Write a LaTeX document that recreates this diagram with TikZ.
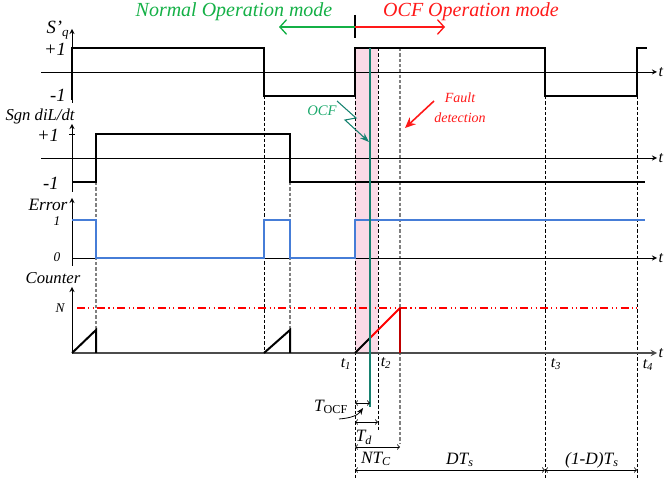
\documentclass[tikz,border=0pt]{standalone}
\usepackage{fontspec}
\setmainfont{Liberation Serif}
\usepackage{xcolor}
\usetikzlibrary{arrows, arrows.meta, calc}

\definecolor{modegreen}{RGB}{20,176,70}
\definecolor{ocfred}{RGB}{255,25,25}
\definecolor{ocfteal}{RGB}{22,130,112}
\definecolor{ocftext}{RGB}{30,170,110}
\definecolor{errblue}{RGB}{70,125,215}
\definecolor{bandpink}{RGB}{250,218,230}

\begin{document}
\begin{tikzpicture}[
  x=0.75pt, y=-0.75pt,
  axis/.style={->, >=stealth, line width=0.7pt},
  sig/.style={line width=1.5pt},
  guide/.style={dash pattern=on 2.5pt off 1.5pt, line width=0.5pt},
  guidegray/.style={guide, gray, line width=0.8pt},
  dim/.style={<->, >=to, line width=0.6pt},
  lbl/.style={font=\itshape\fontsize{13}{15}\selectfont},
  lvl/.style={font=\itshape\fontsize{14}{16}\selectfont},
  smlbl/.style={font=\itshape\fontsize{10}{12}\selectfont, inner sep=1pt},
  tlbl/.style={font=\itshape\fontsize{12}{14}\selectfont},
  mode/.style={font=\itshape\fontsize{15}{18}\selectfont}
]
\useasboundingbox (0,0) rectangle (664,484);

% ── OCF window (pink band) ───────────────────────────────────
\fill[bandpink] (355,48) rectangle (378,353);

% ── Guide lines ──────────────────────────────────────────────
\draw[guidegray] (96,182) -- (96,330);
\draw[guide]     (264,96) -- (264,353);
\draw[guidegray] (290,182) -- (290,330);
\draw[guide]     (355,96) -- (355,478);
\draw[guide]     (378,48) -- (378,432);
\draw[guidegray] (400,48) -- (400,443);
\draw[guide]     (545,96) -- (545,478);
\draw[guide]     (637,96) -- (637,478);

% ── Axes ─────────────────────────────────────────────────────
\draw[axis] (72,103) -- (72,29);
\draw[axis] (41,72) -- (657,72);
\draw[axis] (72,192) -- (72,124);
\draw (69,134) -- (75,134);
\draw[axis] (41,158) -- (657,158);
\draw[axis] (72,266) -- (72,198);
\draw[axis] (72,258) -- (657,258);
\draw[axis] (72,353) -- (72,287);
\draw[axis, black!70, line width=1.1pt] (72,353) -- (657,353);

% ── Signals ──────────────────────────────────────────────────
\draw[sig] (72,100) -- (72,48) -- (264,48) -- (264,96) -- (355,96) -- (355,48)
  -- (545,48) -- (545,96) -- (637,96) -- (637,48) -- (647,48);
\draw[sig] (72,182) -- (96,182) -- (96,134) -- (290,134) -- (290,182) -- (645,182);
\draw[sig, errblue] (72,220) -- (96,220) -- (96,258) -- (264,258) -- (264,220)
  -- (290,220) -- (290,258) -- (355,258) -- (355,220) -- (645,220);
\draw[red, dash pattern=on 6pt off 2.5pt on 0.8pt off 2.5pt on 0.8pt off 2.5pt, line width=0.8pt]
  (77,308) -- (640,308);
\draw[sig] (72,353) -- (96,330) -- (96,353);
\draw[sig] (264,353) -- (290,330) -- (290,353);
\draw[sig] (355,353) -- (370,338);
\draw[sig, red] (370,338) -- (400,308);
\draw[sig, red!75!black] (400,308) -- (400,353);
\draw[ocfteal, line width=1.3pt] (370,48) -- (370,407);

% ── Axis labels ──────────────────────────────────────────────
\node[lvl] (sq)  at (58,30)  {S’\textsubscript{q}};
\node[lvl] (sqh) at (55,49)  {+1};
\node[lvl] (sql) at (58,95)  {-1};
\node[lbl, font=\itshape\fontsize{12.5}{15}\selectfont] (sgn) at (40,116) {Sgn diL/dt};
\node[lvl] (sgh) at (48,135) {+1};
\node[lvl] (sgl) at (51,183) {-1};
\node[lbl, inner sep=1pt] (err) at (48,205) {Error};
\node[smlbl] (erh) at (57,221) {1};
\node[smlbl] (erl) at (57,257) {0};
\node[lbl, font=\itshape\fontsize{12.5}{15}\selectfont] (cnt) at (53,278) {Counter};
\node[smlbl] (cnn) at (60,308) {N};
\foreach \yy/\nm in {72/ta, 158/tb, 258/tc, 353/td}
  \node[tlbl, anchor=west, inner sep=1pt] (\nm) at (657,\yy) {t};
\node[tlbl] (t1) at (346,364) {t\textsubscript{1}};
\node[tlbl] (t2) at (386,363) {t\textsubscript{2}};
\node[tlbl] (t3) at (556,364) {t\textsubscript{3}};
\node[tlbl] (t4) at (648,365) {t\textsubscript{4}};

% ── Operation modes ──────────────────────────────────────────
\draw[line width=0.8pt] (355,15) -- (355,38);
\coordinate (mnorm) at (279,27);
\coordinate (mocf)  at (445,27);
\coordinate (msplit) at (355,27);
\draw[modegreen, line width=1pt, -{Straight Barb[length=5pt,width=11pt]}] (msplit) -- (mnorm);
\draw[ocfred, line width=1pt, -{Straight Barb[length=5pt,width=11pt]}] (msplit) -- (mocf);
\node[mode, text=modegreen] (normal) at (234,12) {Normal Operation mode};
\node[mode, text=ocfred]    (ocfmd)  at (471,12) {OCF Operation mode};

% ── OCF and fault detection marks ────────────────────────────
\node[text=ocftext, font=\itshape\fontsize{11}{13}\selectfont] (ocf) at (322,111) {OCF};
\coordinate (ocfhit) at (369,142);
\draw[ocfteal, line width=0.8pt, -{Stealth[length=7pt,width=5pt]}]
  (337,101) -- (356,118) -- (345,120) -- (ocfhit);
\node[text=ocfred, align=center, font=\itshape\fontsize{10.5}{15}\selectfont] (fault) at (460,108) {Fault\\detection};
\coordinate (fhit) at (405,128);
\draw[ocfred, line width=1.2pt, -{Stealth[length=8pt,width=7pt]}] (434,101) -- (fhit);

% ── Time intervals ───────────────────────────────────────────
\coordinate (da) at (355,403);  \coordinate (db) at (370,403);
\coordinate (dc) at (355,422);  \coordinate (dd) at (378,422);
\coordinate (de) at (355,447);  \coordinate (df) at (400,447);
\coordinate (dg) at (355,470);  \coordinate (dh) at (545,470);
\coordinate (di) at (637,470);
\draw[dim] (da) -- (db);
\draw[dim] (dc) -- (dd);
\draw[dim] (de) -- (df);
\draw[dim] (dg) -- (dh);
\draw[dim] (dh) -- (di);
\node[lbl] (tocf) at (331,407) {T\textsubscript{\upshape OCF}};
\draw[line width=0.6pt, -{Stealth[length=5pt,width=4pt]}]
  (339,419) .. controls (352,418) and (358,415) .. (363,408);
\node[lbl] (tdl)  at (364,437) {T\textsubscript{d}};
\node[lbl] (ntc)  at (376,459) {NT\textsubscript{C}};
\node[lbl] (dts)  at (460,460) {DT\textsubscript{s}};
\node[lbl] (odts) at (592,460) {(1-D)T\textsubscript{s}};
\end{tikzpicture}
\end{document}
